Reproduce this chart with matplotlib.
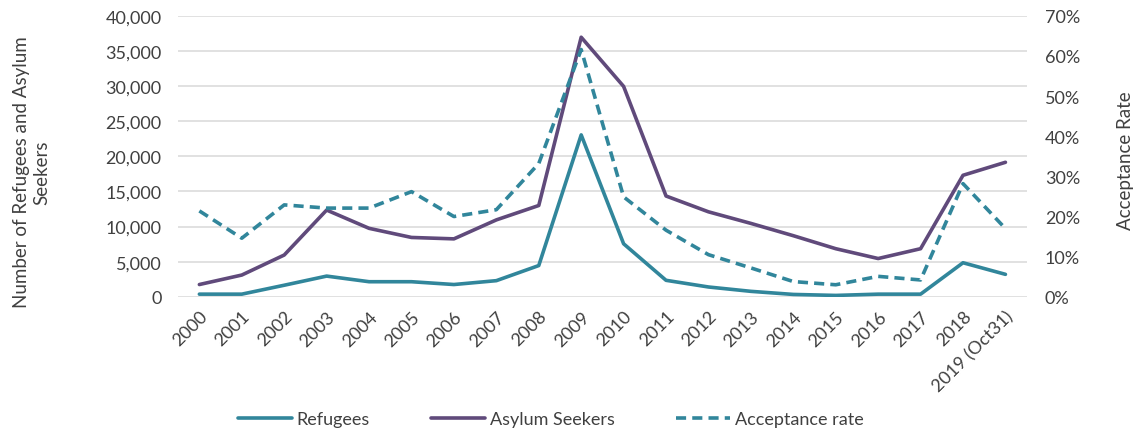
import matplotlib
matplotlib.use("Agg")
import matplotlib.pyplot as plt
from matplotlib.ticker import FuncFormatter, MultipleLocator

plt.rcParams['font.family'] = ['Lato', 'DejaVu Sans']

years = ['2000', '2001', '2002', '2003', '2004', '2005', '2006', '2007', '2008', '2009',
         '2010', '2011', '2012', '2013', '2014', '2015', '2016', '2017', '2018', '2019 (Oct31)']
refugees = [380, 380, 1650, 2950, 2150, 2150, 1750, 2300, 4450, 23050,
            7550, 2350, 1400, 780, 340, 200, 380, 380, 4850, 3200]
asylum = [1750, 3100, 5950, 12350, 9750, 8450, 8250, 10950, 13000, 36950,
          29950, 14350, 12100, 10450, 8700, 6850, 5450, 6850, 17300, 19150]
accept_rate = [21.4, 14.6, 22.9, 22.1, 22.1, 26.2, 20.0, 21.7, 33.2, 61.6,
               24.9, 16.6, 10.5, 7.2, 3.8, 3.0, 5.1, 4.2, 28.2, 17.0]

teal = '#31869b'
purple = '#604a7b'
text_col = '#404040'

fig = plt.figure(figsize=(11.42, 4.31), dpi=100)
ax = fig.add_axes([0.156, 0.309, 0.743, 0.652])
ax2 = ax.twinx()

x = range(len(years))
l1, = ax.plot(x, refugees, color=teal, lw=2.6, solid_capstyle='round', label='Refugees')
l2, = ax.plot(x, asylum, color=purple, lw=2.6, solid_capstyle='round', label='Asylum Seekers')
l3, = ax2.plot(x, accept_rate, color=teal, lw=2.6, dashes=(2.8, 1.7), label='Acceptance rate')

ax.set_xlim(-0.5, len(years) - 0.5)
ax.set_ylim(0, 40000)
ax2.set_ylim(0, 70)
ax.yaxis.set_major_locator(MultipleLocator(5000))
ax2.yaxis.set_major_locator(MultipleLocator(10))
ax.yaxis.set_major_formatter(FuncFormatter(lambda v, p: f'{int(v):,}'))
ax2.yaxis.set_major_formatter(FuncFormatter(lambda v, p: f'{int(v)}%'))

ax.grid(axis='y', color='#d9d9d9', lw=1.1)
ax.set_axisbelow(True)
for a in (ax, ax2):
    for s in a.spines.values():
        s.set_visible(False)
    a.tick_params(length=0, labelsize=13, colors=text_col)
ax.tick_params(axis='y', pad=12)
ax2.tick_params(axis='y', pad=13)

ax.set_xticks(list(x))
ax.set_xticklabels(years, rotation=45, ha='right', rotation_mode='anchor', fontsize=13)
ax.tick_params(axis='x', pad=8)

ax.set_ylabel('Number of Refugees and Asylum\nSeekers', fontsize=13.5, color=text_col)
ax.yaxis.set_label_coords(-0.151, 0.446)
ax2.set_ylabel('Acceptance Rate', fontsize=13.5, color=text_col)
ax2.yaxis.set_label_coords(1.106, 0.489)

fig.legend(handles=[l1, l2, l3], loc='center', bbox_to_anchor=(0.482, 0.025),
           ncol=3, frameon=False, fontsize=13, handlelength=3.0, columnspacing=3.4,
           labelcolor=text_col, handletextpad=0.25)

fig.savefig('out.png', dpi=100)
